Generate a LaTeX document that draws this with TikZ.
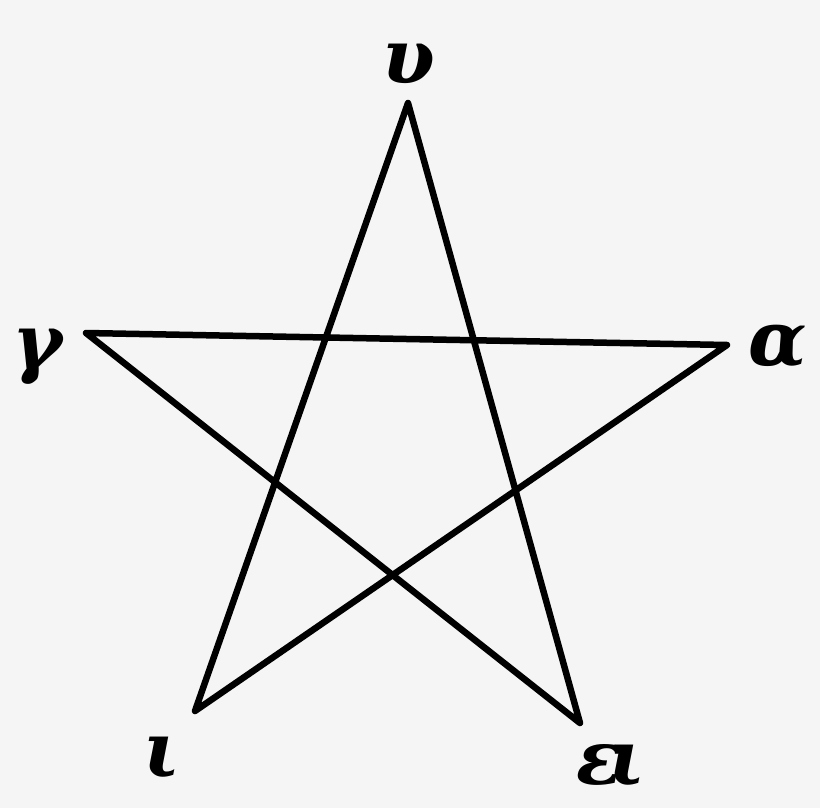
\documentclass[tikz,border=0pt]{standalone}
\usepackage{fontspec}
\setmainfont{DejaVu Serif}
\begin{document}
\begin{tikzpicture}[x=1pt,y=-1pt,
  lbl/.style={font=\fontsize{76}{76}\selectfont\bfseries\itshape, inner sep=0pt, anchor=center},
  star/.style={line width=6.5pt, line join=round, line cap=round, black}]
\fill[fill={rgb,255:red,245;green,245;blue,245}] (0,0) rectangle (820,808);
\useasboundingbox (0,0) rectangle (820,808);
\coordinate (T) at (408,103);
\coordinate (L) at (86,333);
\coordinate (R) at (727,345);
\coordinate (BL) at (195,711);
\coordinate (BR) at (580,723);
\draw[star] (T) -- (BL) -- (R) -- (L) -- (BR) -- cycle;
\node[lbl] (u) at (409,64) {υ};
\node[lbl] (g) at (38,357) {γ};
\node[lbl] (a) at (778,347) {α};
\node[lbl] (i) at (162,758) {ι};
\node[lbl] (e) at (611,766) {ε\kern-14pt ι};
\end{tikzpicture}
\end{document}
